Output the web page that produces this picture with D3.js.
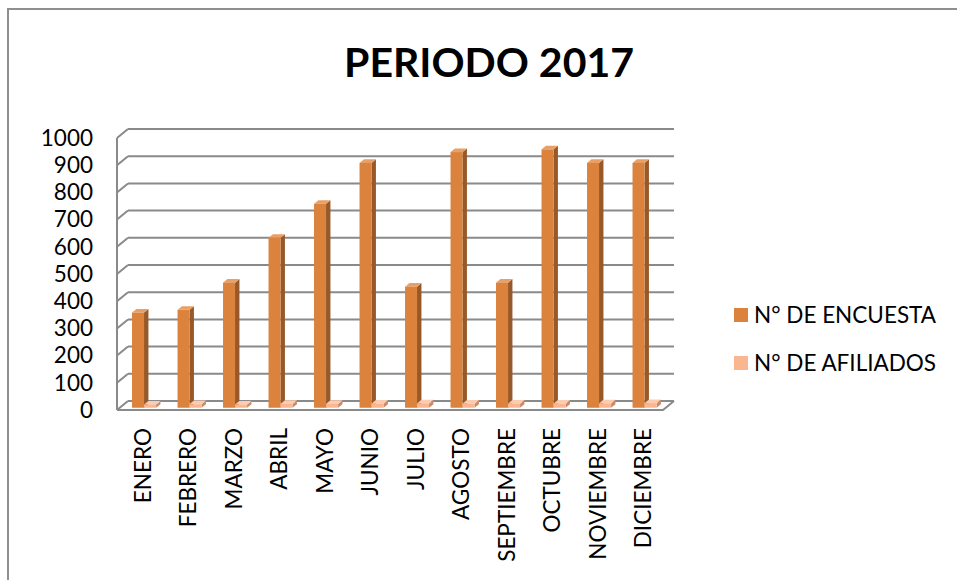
<!DOCTYPE html>
<html>
<head>
<meta charset="utf-8">
<script src="https://cdn.jsdelivr.net/npm/d3@7"></script>
<style>
  body { margin: 0; background: #fff; }
  text { font-family: Lato, "Open Sans", sans-serif; fill: #000; }
</style>
</head>
<body>
<script>
// data
const months = ["ENERO", "FEBRERO", "MARZO", "ABRIL", "MAYO", "JUNIO", "JULIO",
                "AGOSTO", "SEPTIEMBRE", "OCTUBRE", "NOVIEMBRE", "DICIEMBRE"]
const encuestas = [350, 360, 460, 625, 750, 900, 445, 940, 460, 950, 900, 900]
const afiliados = [12, 13, 12, 14, 14, 15, 16, 15, 15, 15, 16, 17]
const seriesNames = ["N° DE ENCUESTA", "N° DE AFILIADOS"]
const yTicks = [0, 100, 200, 300, 400, 500, 600, 700, 800, 900, 1000]

const w = 957
const h = 580

// depth vector (back wall -> front edge)
const dx = -11, dy = 9
const fFront = 0.75, fBack = 0.35
const barW = 12

const colors = [
  {front: "#db823d", side: "#98592a", top: "#e9a066"},
  {front: "#f9b690", side: "#c98c6b", top: "#fcccb0"}
]

let svg = d3.select("body")
            .append("svg")
            .attr("width", w)
            .attr("height", h)

// outer frame
svg.append("rect")
    .attr("x", 8).attr("y", 9)
    .attr("width", 970).attr("height", 600)
    .attr("fill", "none")
    .attr("stroke", "#8f8f8f")
    .attr("stroke-width", 2)

svg.append("text")
    .text("PERIODO 2017")
    .attr("x", 489)
    .attr("y", 77)
    .attr("text-anchor", "middle")
    .attr("font-size", "41px")
    .attr("font-weight", "bold")

// scales on the back wall
let x = d3.scaleBand().domain(months).range([128, 674])
let y = d3.scaleLinear().domain([0, 1000]).range([401, 129])
const bw = x.bandwidth()
let xs = d3.scaleBand().domain(seriesNames).range([bw * 0.27, bw * 0.27 + 2 * barW])

let grid = svg.append("g")
const gridColor = "#8a8a8a"

// back wall lines + left wall diagonals
yTicks.forEach(function(t) {
    grid.append("line")
        .attr("x1", x.range()[0]).attr("x2", x.range()[1])
        .attr("y1", y(t)).attr("y2", y(t))
        .attr("stroke", gridColor).attr("stroke-width", 2)
    grid.append("line")
        .attr("x1", x.range()[0]).attr("y1", y(t))
        .attr("x2", x.range()[0] + dx).attr("y2", y(t) + dy)
        .attr("stroke", gridColor).attr("stroke-width", 2)
})
// left front edge
grid.append("line")
    .attr("x1", x.range()[0] + dx).attr("x2", x.range()[0] + dx)
    .attr("y1", y(1000) + dy).attr("y2", y(0) + dy)
    .attr("stroke", gridColor).attr("stroke-width", 2)
// floor front edge and right side
grid.append("polyline")
    .attr("points", [[x.range()[0] + dx, y(0) + dy], [x.range()[1] + dx, y(0) + dy], [x.range()[1], y(0)]].join(" "))
    .attr("fill", "none")
    .attr("stroke", gridColor).attr("stroke-width", 2)

// y labels on the front plane
svg.selectAll("text.ylab")
    .data(yTicks)
    .enter()
    .append("text")
    .attr("class", "ylab")
    .text(function(d) {return d})
    .attr("x", 93)
    .attr("y", function(d) {return y(d) + dy})
    .attr("dy", "0.35em")
    .attr("text-anchor", "end")
    .attr("font-size", "22.5px")

// bars
const sx = dx * (fBack - fFront), sy = dy * (fBack - fFront)
const allSeries = [encuestas, afiliados]

allSeries.forEach(function(vals, si) {
    let g = svg.append("g")
    let col = colors[si]
    let data = months.map(function(m, i) {
        return {
            x0: x(m) + xs(seriesNames[si]) + dx * fFront,
            yv: y(vals[i]) + dy * fFront,
            y0: y(0) + dy * fFront
        }
    })
    g.selectAll("polygon.side")
        .data(data).enter().append("polygon")
        .attr("points", function(d) {
            let r = d.x0 + barW
            return [[r, d.yv], [r + sx, d.yv + sy], [r + sx, d.y0 + sy], [r, d.y0]].join(" ")
        })
        .attr("fill", col.side)
    g.selectAll("polygon.top")
        .data(data).enter().append("polygon")
        .attr("points", function(d) {
            return [[d.x0, d.yv], [d.x0 + sx, d.yv + sy], [d.x0 + barW + sx, d.yv + sy], [d.x0 + barW, d.yv]].join(" ")
        })
        .attr("fill", col.top)
    g.selectAll("rect")
        .data(data).enter().append("rect")
        .attr("x", function(d) {return d.x0})
        .attr("y", function(d) {return d.yv})
        .attr("width", barW)
        .attr("height", function(d) {return d.y0 - d.yv})
        .attr("fill", col.front)
})

// month labels, rotated
svg.selectAll("text.xlab")
    .data(months)
    .enter()
    .append("text")
    .attr("class", "xlab")
    .text(function(d) {return d})
    .attr("transform", function(d) {
        return "translate(" + (x(d) + bw / 2 - 8) + ",428) rotate(-90)"
    })
    .attr("dy", "0.35em")
    .attr("text-anchor", "end")
    .attr("font-size", "22.5px")

// legend
let legend = svg.selectAll("g.leg")
    .data(seriesNames)
    .enter()
    .append("g")
    .attr("class", "leg")
    .attr("transform", function(d, i) {return "translate(734," + (315 + i * 48) + ")"})

legend.append("rect")
    .attr("x", 0).attr("y", -7)
    .attr("width", 14).attr("height", 14)
    .attr("fill", function(d, i) {return colors[i].front})

legend.append("text")
    .text(function(d) {return d})
    .attr("x", 20)
    .attr("dy", "0.35em")
    .attr("font-size", "22.5px")
</script>
</body>
</html>
